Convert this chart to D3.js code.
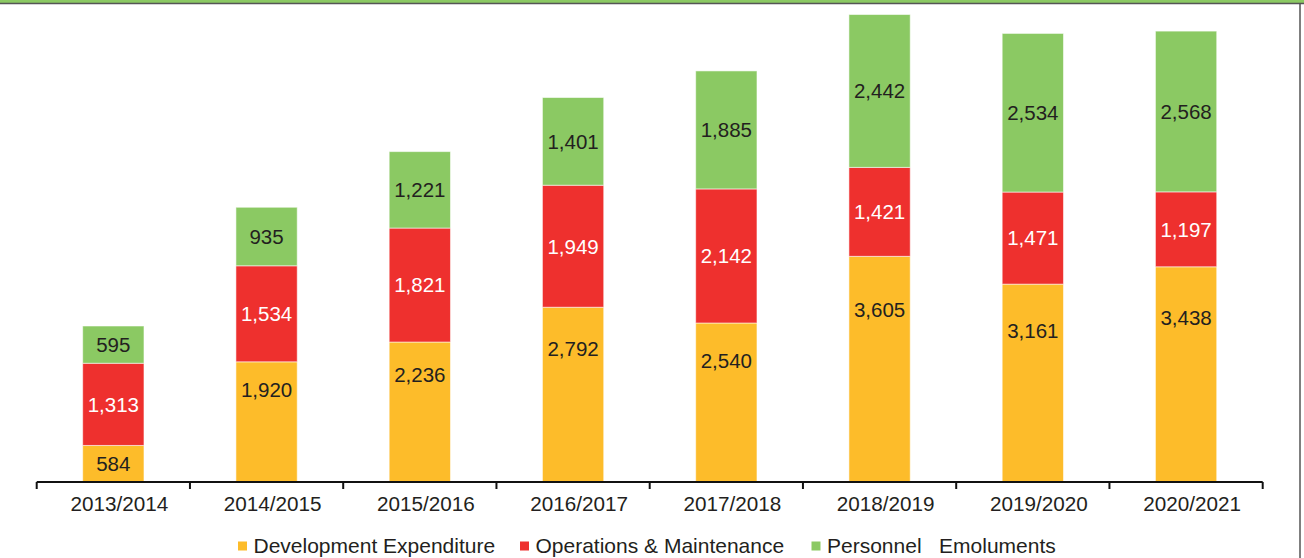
<!DOCTYPE html>
<html>
<head>
<meta charset="utf-8">
<script src="https://cdn.jsdelivr.net/npm/d3@7"></script>
<style>
  html, body { margin: 0; padding: 0; background: #fff; }
  svg { display: block; }
  text { font-family: "Liberation Sans", Arial, Helvetica, sans-serif; }
</style>
</head>
<body>
<svg id="chart" width="1304" height="558"></svg>
<script>
const categories = ["2013/2014","2014/2015","2015/2016","2016/2017","2017/2018","2018/2019","2019/2020","2020/2021"];
const seriesNames = ["Development Expenditure","Operations & Maintenance","Personnel   Emoluments"];
const development = [584, 1920, 2236, 2792, 2540, 3605, 3161, 3438];
const operations  = [1313, 1534, 1821, 1949, 2142, 1421, 1471, 1197];
const personnel   = [595, 935, 1221, 1401, 1885, 2442, 2534, 2568];
const colors = ["#fdbc2a", "#ee302e", "#8bc963"];
const labelColors = ["#231f20", "#ffffff", "#231f20"];

const svg = d3.select("#chart");
const W = 1304, H = 558;
const x0 = 36.7, x1 = 1262.7, baseY = 482;

// frame
svg.append("rect").attr("x", 0).attr("y", 0).attr("width", W).attr("height", 3).attr("fill", "#8bc963");
svg.append("line").attr("x1", 0).attr("x2", W).attr("y1", 3.5).attr("y2", 3.5).attr("stroke", "#555").attr("stroke-width", 1.5);
svg.append("line").attr("x1", 1300).attr("x2", 1300).attr("y1", 3).attr("y2", H).attr("stroke", "#555").attr("stroke-width", 1.5);

const xAxisScale = d3.scaleBand().domain(categories).range([x0, x1]);
const x = d3.scaleBand().domain(categories).range([x0, x1]).paddingInner(0.6).paddingOuter(0.3);
const y = d3.scaleLinear().domain([0, 7700]).range([baseY, 0]);

const table = categories.map((c, i) => ({cat: c, dev: development[i], ops: operations[i], per: personnel[i]}));
const stack = d3.stack().keys(["dev","ops","per"])(table);

const g = svg.append("g");
stack.forEach((layer, li) => {
  const grp = g.append("g");
  grp.selectAll("rect").data(layer).join("rect")
    .attr("x", d => x(d.data.cat))
    .attr("width", x.bandwidth())
    .attr("y", d => y(d[1]))
    .attr("height", d => y(d[0]) - y(d[1]))
    .attr("fill", colors[li])
    .attr("stroke", "rgba(255,255,255,0.55)")
    .attr("stroke-width", 1);
  grp.selectAll("text").data(layer).join("text")
    .attr("x", d => x(d.data.cat) + x.bandwidth() / 2)
    .attr("y", d => {
      const top = y(d[1]), bot = y(d[0]), h = bot - top;
      if (li === 0 && h > 60) return top + h * 0.235;
      return top + h / 2;
    })
    .attr("dy", "0.36em")
    .attr("text-anchor", "middle")
    .attr("font-size", 20.5)
    .attr("fill", labelColors[li])
    .text(d => d3.format(",")(d[1] - d[0]));
});

// axis
const axis = svg.append("g");
axis.append("line").attr("x1", x0).attr("x2", x1).attr("y1", baseY).attr("y2", baseY)
  .attr("stroke", "#111").attr("stroke-width", 2);
const bounds = categories.map(c => xAxisScale(c)).concat([x1]);
axis.selectAll("line.tick").data(bounds).join("line").attr("class", "tick")
  .attr("x1", d => d).attr("x2", d => d).attr("y1", baseY).attr("y2", baseY + 7)
  .attr("stroke", "#111").attr("stroke-width", 2);
axis.selectAll("text").data(categories).join("text")
  .attr("x", d => xAxisScale(d) + xAxisScale.bandwidth() / 2 + 6)
  .attr("y", 511)
  .attr("text-anchor", "middle")
  .attr("font-size", 20.7)
  .attr("fill", "#231f20")
  .text(d => d);

// legend
const legendX = [238, 520, 811.5];
const legend = svg.append("g");
seriesNames.forEach((name, i) => {
  legend.append("rect").attr("x", legendX[i]).attr("y", 541.5).attr("width", 9).attr("height", 9).attr("fill", colors[i]);
  legend.append("text").attr("x", legendX[i] + 15.5).attr("y", 552.5)
    .attr("font-size", 21).attr("fill", "#231f20")
    .attr("xml:space", "preserve").style("white-space", "pre")
    .text(name);
});
</script>
</body>
</html>
